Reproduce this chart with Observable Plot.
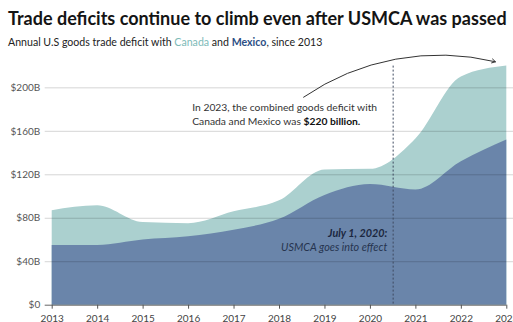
<!DOCTYPE html>
<html><head><meta charset="utf-8">
<script src="https://cdn.jsdelivr.net/npm/d3@7"></script>
<script src="https://cdn.jsdelivr.net/npm/@observablehq/plot@0.6"></script>
<style>
html,body{margin:0;padding:0;background:#fff;overflow:hidden;}
body{width:513px;height:322px;font-family:Lato,"Open Sans",sans-serif;position:relative;}
#title{position:absolute;left:8px;top:7px;font-size:18px;font-weight:700;color:#141414;white-space:nowrap;letter-spacing:0px;}
#subtitle{position:absolute;left:8px;top:36px;font-size:10.6px;color:#222;white-space:nowrap;}
#chart{position:absolute;left:0;top:50px;}
</style></head><body>
<div id="title">Trade deficits continue to climb even after USMCA was passed</div>
<div id="subtitle">Annual U.S goods trade deficit with <span style="color:#7dbab8">Canada</span> and <b style="color:#2d4f85">Mexico</b>, since 2013</div>
<div id="chart"></div>
<script>
const years  = [2013, 2014, 2015, 2016, 2017, 2018, 2019, 2020, 2021, 2022, 2023];
const mexico = [55, 55, 60, 63, 69, 79, 101, 111, 106, 132, 152];
const canada = [32, 36.5, 16, 12, 17, 17, 23.5, 14, 47, 78, 68];
const yTicks = [0, 40, 80, 120, 160, 200];
const usmcaDate = [2020.5];
const usmcaNote = [{x: 2020.37, y: 66, text: "July 1, 2020:", bold: true}, {x: 2020.37, y: 53, text: "USMCA goes into effect", bold: false}];
const totalNote = [{x: 2016.08, y: 182, text: "In 2023, the combined goods deficit with"}, {x: 2016.08, y: 168.4, text: "Canada and Mexico was $220 billion."}];
const arrowData = [{x1: 2018.53, y1: 191.4, x2: 2022.75, y2: 224}];

const data = years.map((yr, i) => ({year: yr, mexico: mexico[i], total: mexico[i] + canada[i]}));

const chart = Plot.plot({
  width: 513, height: 290,
  marginLeft: 51.7, marginRight: 6.7, marginTop: 15.6, marginBottom: 35.3,
  style: {fontFamily: "Lato, 'Open Sans', sans-serif", fontSize: "10px", background: "transparent", overflow: "visible"},
  x: {domain: [2013, 2023]},
  y: {domain: [0, 220]},
  marks: [
    Plot.areaY(data, {x: "year", y: "total", fill: "#abd0cf", curve: "monotone-x"}),
    Plot.areaY(data, {x: "year", y: "mexico", fill: "#6a85aa", curve: "monotone-x"}),
    Plot.ruleY(yTicks.filter(d => d > 0), {stroke: "#000", strokeOpacity: 0.17, insetLeft: -7, insetRight: -7}),
    Plot.ruleY([0], {stroke: "#666", insetLeft: -7}),
    Plot.ruleX(usmcaDate, {stroke: "#3e4a60", strokeDasharray: "2,2", strokeWidth: 1}),
    Plot.axisX({ticks: years, tickFormat: d => String(d), tickSize: 4, tickPadding: 6, stroke: "#555", color: "#444", label: null}),
    Plot.axisY({ticks: yTicks, tickFormat: d => d === 0 ? "$0" : `$${d}B`, tickSize: 0, tickPadding: 12, color: "#555", label: null}),
    Plot.text(usmcaNote.filter(d => d.bold), {x: "x", y: "y", text: "text", textAnchor: "end", fontStyle: "italic", fontWeight: "bold", fill: "#1b2740", fontSize: 10.8}),
    Plot.text(usmcaNote.filter(d => !d.bold), {x: "x", y: "y", text: "text", textAnchor: "end", fontStyle: "italic", fill: "#26344f", fontSize: 10.8}),
    Plot.text(totalNote, {x: "x", y: "y", text: "text", textAnchor: "start", fill: "#333", fontSize: 10.3}),
    Plot.arrow(arrowData, {x1: "x1", y1: "y1", x2: "x2", y2: "y2", bend: 24, headLength: 6, stroke: "#333", strokeWidth: 1})
  ]
});
document.getElementById("chart").appendChild(chart);

// make the "$220 billion." part bold
chart.querySelectorAll("text").forEach(t => {
  if (t.textContent === "Canada and Mexico was $220 billion.") {
    t.textContent = "";
    const a = document.createElementNS("http://www.w3.org/2000/svg", "tspan");
    a.textContent = "Canada and Mexico was ";
    const b = document.createElementNS("http://www.w3.org/2000/svg", "tspan");
    b.textContent = "$220 billion.";
    b.setAttribute("font-weight", "bold");
    b.setAttribute("fill", "#111");
    t.appendChild(a); t.appendChild(b);
  }
});
</script>
</body></html>
